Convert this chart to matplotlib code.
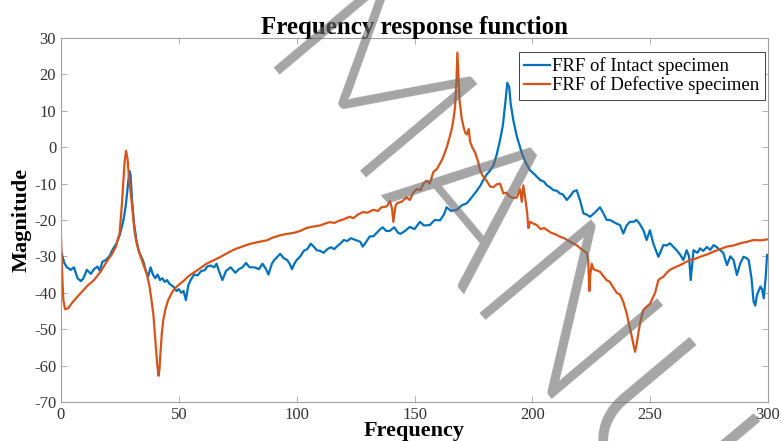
import numpy as np
import matplotlib
matplotlib.use("Agg")
import matplotlib.pyplot as plt

plt.rcParams['font.family'] = ['Liberation Serif', 'DejaVu Serif']
plt.rcParams['axes.unicode_minus'] = False

# FRF del especimen intacto (frecuencia, magnitud)
intact_f = [0, 1.4, 2.5, 4.2, 5.5, 7, 8.5, 9.5, 11, 12.7, 14, 15.5, 16.5, 17.5, 19, 20.5,
            22, 23.5, 25, 26.5, 27.5, 28.3, 29, 29.5, 30.2, 31, 32, 33, 34, 35, 36, 37,
            38, 39, 40, 41, 42, 43, 44, 45, 46, 47, 48, 49, 50, 51, 52, 53, 54, 55,
            56.5, 58, 59.5, 61, 62, 63.5, 65, 66, 67, 68.5, 70, 72, 74, 75.5, 77, 78.5,
            80, 82, 84, 85.5, 87, 88, 89.5, 90.5, 92, 93, 94.5, 96, 97, 98, 99, 100,
            101.5, 103, 104.5, 106, 107.5, 108.5, 110, 111.5, 113, 114.5, 116, 117,
            118.5, 120, 121.5, 123, 125, 127, 128, 129, 131, 132.5, 134, 135.5, 136.5,
            138, 139.5, 141.4, 143, 144, 146, 148, 150, 152.3, 154, 156.5, 158.5, 160.8,
            162.5, 163.6, 165.5, 167.9, 170, 172.2, 174, 176.4, 178, 179.2, 180.6, 182,
            183.5, 184.9, 186.3, 187.5, 188.5, 189.4, 190.2, 190.8, 191.9, 193.4, 195.5,
            197, 199, 201, 203.3, 205, 206, 207.5, 208.9, 210.5, 211.7, 213, 214.6, 216,
            217.4, 218.8, 220.2, 221.7, 223, 224.5, 226.5, 228.7, 230, 231.6, 233, 234.3,
            235.8, 237.2, 238.6, 240, 241.4, 243, 244.2, 245.5, 247.1, 248.5, 249.9,
            251.3, 252.5, 253.5, 255.6, 257, 258.4, 260, 261.2, 262.7, 264.1, 265.5,
            266.5, 267.2, 268.4, 270, 271.2, 272.5, 274.1, 275.5, 276.9, 278.3, 279.7,
            281, 282.6, 284, 285.4, 286.8, 288.2, 289.6, 291, 291.8, 293, 293.9, 294.6,
            295.3, 296.8, 297.5, 298.2, 299, 299.6]
intact_mag = [-28.5, -31.8, -33, -33.7, -33, -36, -36.8, -36, -33.7, -34.8, -33.5, -32.8,
              -34, -31.5, -31, -30, -28, -26.5, -24, -20, -16, -11, -6.5, -7.5, -15, -21,
              -25.5, -28.5, -30, -31.5, -34, -35.5, -33, -35, -36, -35, -36.5, -36, -37,
              -36.5, -37.5, -38, -38.5, -39.5, -39, -40, -39.5, -42, -38, -36.5, -35,
              -35.2, -34, -33.8, -32.8, -32.5, -33, -32, -34, -36.5, -34, -33, -34.5,
              -33.5, -33, -31.8, -33, -33, -33.5, -32, -33.5, -35, -32, -31, -30, -29.3,
              -30.5, -31, -32, -33.5, -32, -31, -30, -28.5, -28, -26.5, -27.5, -28.3,
              -28.5, -29, -28, -27.5, -28, -27.3, -26.5, -25.5, -25.8, -25, -25.5, -26,
              -27.3, -26.5, -24.5, -24.5, -23.5, -22.5, -22, -23, -23, -22, -23.5, -23.8,
              -23, -21.9, -22.5, -20.5, -21.5, -21.4, -20, -20.1, -18.5, -16.5, -17.5,
              -17.2, -16, -15.4, -14, -12, -10.5, -9, -7.5, -6.5, -5, -2, 2, 6, 12, 17.7,
              16.5, 12, 7.5, 3, -1.5, -4, -6.3, -7.5, -9, -9.5, -10.4, -11, -11.8, -12,
              -12.7, -13, -14.5, -13.5, -12.2, -11.8, -14.5, -18.2, -18.5, -19.1, -18,
              -16.5, -18, -20, -20, -20.5, -21, -21.4, -23.7, -21.5, -20.5, -20.5, -20,
              -21, -22.8, -25.5, -22.8, -26.4, -28.5, -30.1, -26.9, -27, -26.4, -27.5,
              -28.3, -29.5, -31, -28.3, -30, -36.5, -28.3, -29, -27.8, -28.5, -27.4,
              -28.2, -26.9, -27.5, -28.3, -29, -32.4, -30, -31, -35.1, -32, -30.1, -30.5,
              -31, -36, -42.5, -43.5, -40.6, -38.3, -39, -41.5, -36, -29.6]

# FRF del especimen defectuoso
defect_f = [0, 0.5, 1, 1.7, 3, 5, 8.5, 11, 14, 17, 19.8, 21.5, 23.3, 24.9, 25.8, 26.4,
            27, 27.6, 28.2, 28.7, 29.3, 29.9, 30.5, 31.3, 32.3, 33.4, 34.8, 36.3, 37.5,
            38.4, 39.2, 39.8, 40.4, 40.8, 41.4, 41.8, 42.2, 42.8, 43.4, 44.3, 45.5, 47,
            48.4, 50, 51.9, 54, 56.2, 58.5, 61.8, 65, 67.5, 70, 73.2, 76, 80, 84, 87.3,
            90, 93, 96, 99, 101.5, 104.2, 107, 110, 112, 114, 116, 118, 120, 122.5, 124,
            126, 128.2, 130, 132.5, 134.5, 136, 138.2, 139.6, 140.5, 141, 142, 142.8,
            144.5, 146.7, 148, 149.5, 150.9, 152.5, 154, 155.1, 156.5, 158, 159.5, 160.8,
            162, 163.7, 165, 165.8, 166.6, 167.2, 167.8, 168.2, 168.6, 169.1, 170, 170.8,
            171.5, 172.2, 173, 173.6, 174.5, 175.8, 177, 177.9, 179.2, 180.6, 182.1,
            183.5, 184.9, 186.3, 187.7, 189, 190.5, 192, 193.4, 194.8, 195.5, 196.2,
            197.2, 197.8, 198.3, 199, 200.5, 201.9, 203.5, 205, 206.1, 208, 210, 211.8,
            213.5, 215.5, 217.4, 219, 220.2, 221.5, 223.1, 223.7, 224.2, 224.6, 225.2,
            225.9, 227, 228.7, 230.2, 231.5, 232.9, 234.3, 235.8, 237.2, 238.6, 240, 241,
            242.2, 243, 243.6, 244.3, 245, 246, 247.1, 248.5, 250, 251, 252.1, 253.5,
            254.5, 255.6, 257, 258.4, 260.5, 262.7, 265, 267, 269, 271.2, 274, 276.9,
            279.7, 282.6, 285.4, 288.2, 291, 293.9, 297, 300]
defect_mag = [-25, -35, -42, -44.5, -44.3, -42.5, -40, -38.2, -36.5, -34, -31, -29.5,
              -27.3, -23.5, -16, -10, -4, -1, -3, -7, -11, -14.5, -18.5, -23.6, -27,
              -29.3, -32, -34.6, -38, -42, -46, -51, -56, -59.5, -62.8, -61, -56.6, -51,
              -47.5, -44.5, -42, -40, -38.7, -37.8, -36.8, -35.5, -34.5, -33.5, -32, -31,
              -30.2, -29.3, -28.2, -27.5, -26.6, -26, -25.6, -24.8, -24.2, -23.8, -23.5,
              -23, -22.2, -21.8, -21.5, -21, -20.6, -20.8, -20.2, -19.8, -19.1, -19.5,
              -18.5, -17.8, -18, -17.2, -17.5, -16.5, -16.3, -14.8, -17, -20.5, -16,
              -15.3, -15, -13.8, -14.5, -12.5, -11.5, -11.8, -9.8, -9.2, -10, -6.8, -6,
              -4.5, -3, 0, 3, 5, 8, 11, 18, 26, 20, 13, 8, 5.6, 4, 3.5, 5, 1.5, 0, -1.6,
              -4, -6.5, -8.1, -9.2, -10.8, -11, -10.2, -10, -12.7, -12.5, -13.6, -14,
              -13.8, -11.5, -15, -10.5, -15, -18, -22.2, -20.5, -21, -21.4, -22.5, -22.2,
              -22.7, -23.5, -24, -24.6, -25, -25.8, -26.4, -27, -27.7, -28.3, -29.1, -31,
              -39.5, -35, -32, -33.5, -33.8, -34.2, -35.5, -36.5, -37, -38.5, -40, -40.5,
              -42.5, -45.6, -48.5, -52, -54.5, -56.2, -54, -51, -47.5, -44.7, -43.8, -43,
              -41.5, -40, -36.5, -36, -35.6, -34.5, -33.7, -33, -32.4, -31.6, -31, -30.7,
              -30.1, -29.5, -28.7, -28, -27.3, -27, -26.4, -26, -25.5, -25.6, -25.3]

xticks = [0, 50, 100, 150, 200, 250, 300]
yticks = [-70, -60, -50, -40, -30, -20, -10, 0, 10, 20, 30]

fig = plt.figure(figsize=(7.81, 4.41), dpi=100)
ax = fig.add_axes([61/781, 39/441, 707/781, 364/441])

ax.plot(intact_f, intact_mag, color='#0072BD', linewidth=1.6, label='FRF of Intact specimen')
ax.plot(defect_f, defect_mag, color='#D95319', linewidth=1.6, label='FRF of Defective specimen')

ax.set_xlim(0, 300)
ax.set_ylim(-70, 30)
ax.set_xticks(xticks)
ax.set_yticks(yticks)
ax.tick_params(direction='in', top=True, right=True, length=4, width=0.6,
               colors='#a0a0a0', labelcolor='#333333', labelsize=12)
for s in ax.spines.values():
    s.set_color('#a0a0a0')
    s.set_linewidth(0.8)

ax.set_title('Frequency response function', fontsize=18, fontweight='bold', pad=3)
ax.set_xlabel('Frequency', fontsize=16, fontweight='bold', labelpad=-1)
ax.set_ylabel('Magnitude', fontsize=16, fontweight='bold', labelpad=2)

leg = ax.legend(loc='upper right', bbox_to_anchor=(0.996, 0.962), borderaxespad=0,
                fontsize=13.5, handlelength=1.4, handletextpad=0.1, borderpad=0.3,
                labelspacing=0.05, fancybox=False, framealpha=1)
leg.get_frame().set_edgecolor('#404040')
leg.get_frame().set_linewidth(0.7)

# marca de agua del manuscrito
fig.text(0.321, 0.848, 'MANU', fontsize=148, color='#6e6e6e', alpha=0.62,
         rotation=-50, rotation_mode='anchor', ha='left', va='baseline',
         family=['Lato', 'DejaVu Sans'], fontweight=300, zorder=10)

plt.savefig('out.png', dpi=100)
